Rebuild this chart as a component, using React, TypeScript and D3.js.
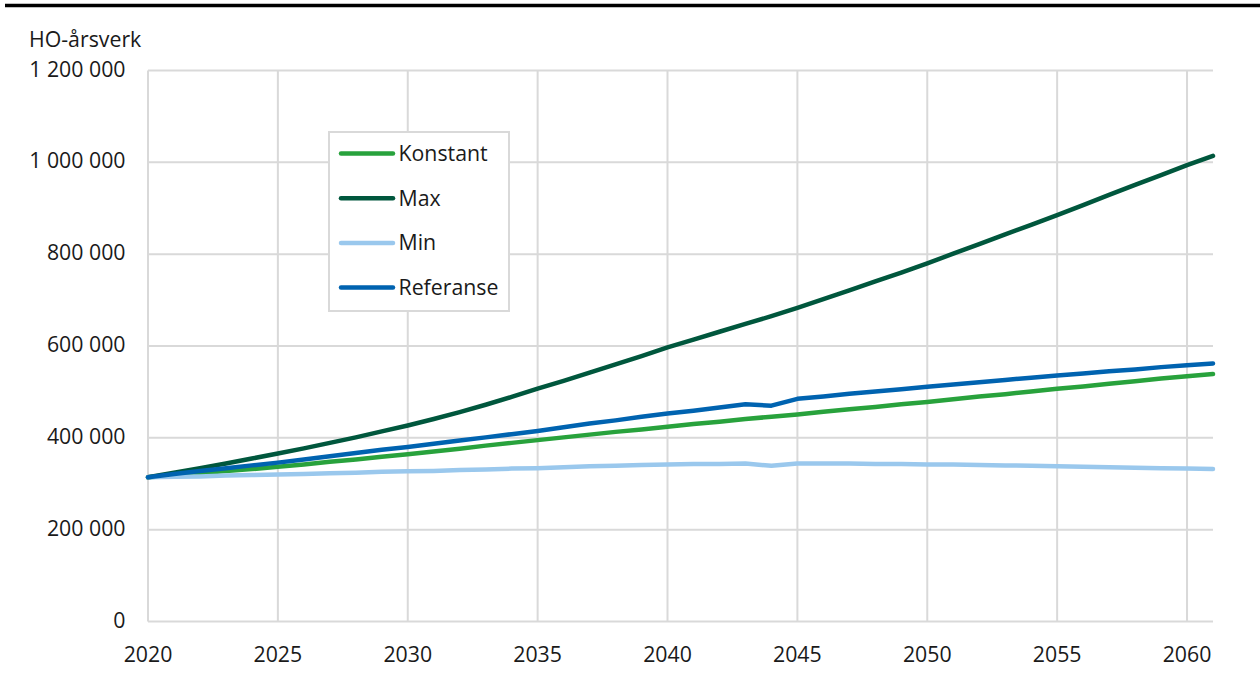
import React from "react";
import * as d3 from "d3";

const years = d3.range(2020, 2062);
const seriesNames = ["Konstant", "Max", "Min", "Referanse"];
const konstant = [314, 318, 323, 328, 332, 337, 342, 348, 353, 359, 364, 370, 376, 383, 389, 395, 401, 407, 413, 418, 424, 430, 435, 441, 446, 451, 457, 462, 467, 473, 478, 484, 490, 495, 501, 507, 512, 518, 523, 529, 534, 539];
const maxS = [314, 324, 334, 344, 355, 366, 377, 389, 401, 414, 427, 441, 456, 472, 489, 507, 524, 542, 560, 578, 597, 614, 631, 648, 665, 683, 702, 721, 741, 760, 780, 801, 822, 843, 864, 885, 907, 929, 951, 972, 994, 1014];
const minS = [314, 315, 316, 318, 319, 320, 321, 323, 324, 326, 327, 328, 330, 331, 333, 334, 336, 338, 339, 341, 342, 343, 343, 344, 339, 344, 344, 344, 343, 343, 342, 342, 341, 340, 339, 338, 337, 336, 335, 334, 333, 332];
const referanse = [314, 321, 328, 334, 340, 346, 353, 360, 367, 374, 380, 387, 394, 401, 408, 415, 423, 431, 438, 446, 453, 459, 466, 473, 470, 485, 490, 496, 501, 506, 511, 516, 521, 526, 531, 536, 540, 545, 549, 554, 558, 562];
const seriesValues = [konstant, maxS, minS, referanse];
const colors = ["#28a23c", "#00573d", "#9ac8ed", "#0063b0"];
const yTicks = [0, 200000, 400000, 600000, 800000, 1000000, 1200000];
const xTicks = [2020, 2025, 2030, 2035, 2040, 2045, 2050, 2055, 2060];
const yTitle = "HO-årsverk";

const W = 1260;
const H = 674;
const FONT = "'Open Sans', 'Noto Sans', sans-serif";

export default function App() {
  const x = d3.scaleLinear().domain([2020, 2061]).range([148, 1213]);
  const y = d3.scaleLinear().domain([0, 1200000]).range([621.5, 70.5]);
  const fmt = (v: number) => d3.format(",")(v).replace(/,/g, " ");
  const line = d3
    .line<number>()
    .x((_, i) => x(years[i]))
    .y((d) => y(d * 1000));

  const legX = 329;
  const legY = 132;
  const legW = 180;
  const legH = 179;
  const rowY = (i: number) => legY + 21.5 + i * 44.7;

  return (
    <div style={{ position: "absolute", left: 0, top: 0 }}>
      <svg width={W} height={H} style={{ display: "block", background: "#fff" }} fontFamily={FONT}>
        <line x1={5} x2={W} y1={5.5} y2={5.5} stroke="#000" strokeWidth={3.5} />
        <text x={29} y={46.5} fontSize={21.3} fill="#1a1a1a">{yTitle}</text>
        {yTicks.map((t) => (
          <g key={"y" + t}>
            <line x1={x(2020)} x2={x(2061)} y1={y(t)} y2={y(t)} stroke="#d9d9d9" strokeWidth={2} />
            <text x={125.5} y={y(t) + 6} fontSize={21.3} textAnchor="end" fill="#1a1a1a">{fmt(t)}</text>
          </g>
        ))}
        {xTicks.map((t) => (
          <g key={"x" + t}>
            <line x1={x(t)} x2={x(t)} y1={y(1200000)} y2={y(0)} stroke="#d9d9d9" strokeWidth={2} />
            <text x={x(t)} y={661.5} fontSize={21.3} textAnchor="middle" fill="#1a1a1a">{t}</text>
          </g>
        ))}
        {seriesValues.map((vals, i) => (
          <path
            key={seriesNames[i]}
            d={line(vals) || ""}
            fill="none"
            stroke={colors[i]}
            strokeWidth={4.5}
            strokeLinecap="round"
            strokeLinejoin="round"
          />
        ))}
        <rect x={legX} y={legY} width={legW} height={legH} fill="#fff" stroke="#d9d9d9" strokeWidth={2} />
        {seriesNames.map((n, i) => (
          <g key={"leg" + n}>
            <line x1={341} x2={393} y1={rowY(i)} y2={rowY(i)} stroke={colors[i]} strokeWidth={4.5} strokeLinecap="round" />
            <text x={398.5} y={rowY(i) + 7.5} fontSize={21.3} fill="#1a1a1a">{n}</text>
          </g>
        ))}
      </svg>
    </div>
  );
}
